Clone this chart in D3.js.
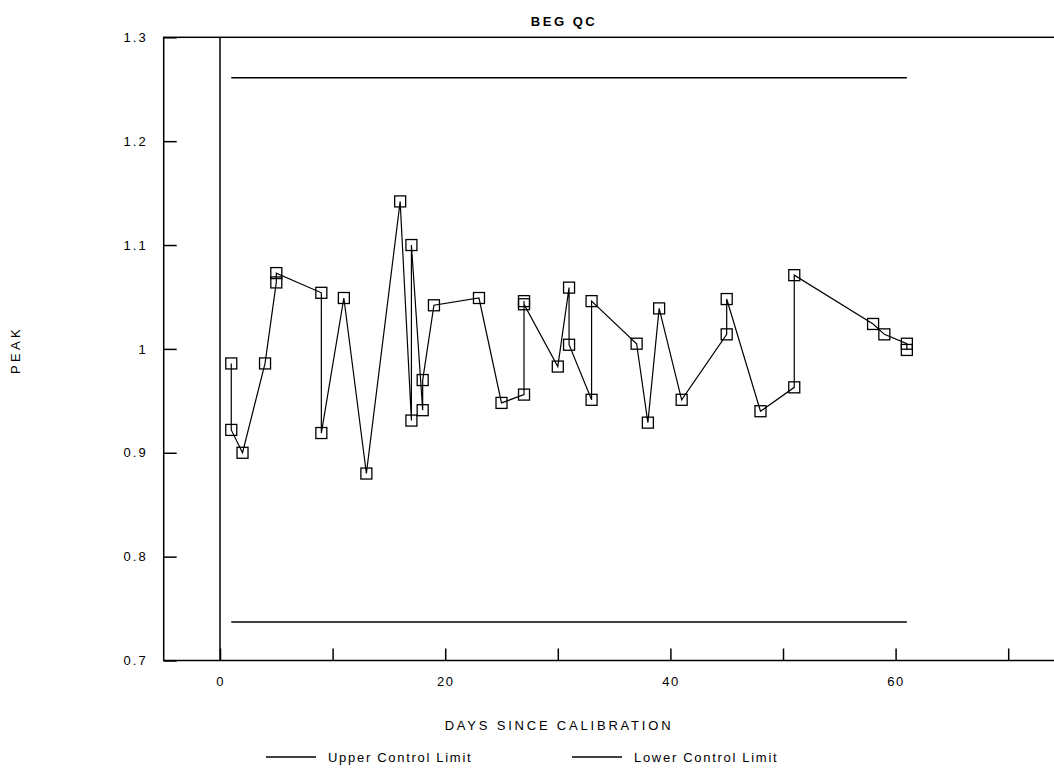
<!DOCTYPE html>
<html>
<head>
<meta charset="utf-8">
<script src="https://cdn.jsdelivr.net/npm/d3@7"></script>
<style>
  html, body { margin: 0; padding: 0; background: #fff; }
  svg { display: block; }
  text { font-family: "Liberation Sans", Arial, sans-serif; fill: #000; }
</style>
</head>
<body>
<svg id="chart" width="1054" height="768"></svg>
<script>
// ---- data ----
const days = [1,1,2,4,5,5,9,9,11,13,16,17,17,18,18,19,23,25,27,27,27,30,31,31,33,33,37,38,39,41,45,45,48,51,51,58,59,61,61];
const peak = [0.986,0.922,0.900,0.986,1.064,1.073,1.054,0.919,1.049,0.880,1.142,0.931,1.100,0.941,0.970,1.042,1.049,0.948,0.956,1.046,1.043,0.983,1.059,1.004,0.951,1.046,1.005,0.929,1.039,0.951,1.014,1.048,0.940,0.963,1.071,1.024,1.014,1.005,0.999];
const limitDays = [1, 61];
const upperLimit = [1.261, 1.261];
const lowerLimit = [0.737, 0.737];
const xTicks = [0,10,20,30,40,50,60,70];
const xTickLabels = ["0","","20","","40","","60",""];
const yTicks = [0.7,0.8,0.9,1.0,1.1,1.2,1.3];
const yTickLabels = ["0.7","0.8","0.9","1","1.1","1.2","1.3"];
const title = "BEG QC";
const xTitle = "DAYS SINCE CALIBRATION";
const yTitle = "PEAK";
const legendLabels = ["Upper Control Limit", "Lower Control Limit"];

const svg = d3.select("#chart");
const x = d3.scaleLinear().domain([-5, 75]).range([163.7, 1064.5]);
const y = d3.scaleLinear().domain([0.7, 1.3]).range([660.5, 37.3]);

// frame
const g = svg.append("g");
g.append("rect")
  .attr("x", x(-5)).attr("y", y(1.3))
  .attr("width", x(75) - x(-5)).attr("height", y(0.7) - y(1.3))
  .attr("fill", "none").attr("stroke", "#000").attr("stroke-width", 1.5);

// vertical line at x = 0
g.append("line")
  .attr("x1", x(0)).attr("x2", x(0))
  .attr("y1", y(1.3)).attr("y2", y(0.7))
  .attr("stroke", "#000").attr("stroke-width", 1.5);

// x axis (ticks pointing up)
const xAxis = d3.axisBottom(x).tickValues(xTicks).tickSizeInner(-12).tickSizeOuter(0)
  .tickFormat((d, i) => xTickLabels[i]).tickPadding(16);
const xg = svg.append("g").attr("transform", `translate(0,${y(0.7)})`).call(xAxis);
xg.select(".domain").remove();
xg.selectAll(".tick line").attr("stroke", "#000").attr("stroke-width", 1.5);
xg.selectAll(".tick text").attr("font-size", 13).attr("font-family", "Liberation Sans, Arial, sans-serif")
  .style("letter-spacing", "1.5px").attr("dy", "0.71em");

// y axis (ticks pointing right)
const yAxis = d3.axisLeft(y).tickValues(yTicks).tickSizeInner(-13).tickSizeOuter(0)
  .tickFormat((d, i) => yTickLabels[i]).tickPadding(16);
const yg = svg.append("g").attr("transform", `translate(${x(-5)},0)`).call(yAxis);
yg.select(".domain").remove();
yg.selectAll(".tick line").attr("stroke", "#000").attr("stroke-width", 1.5);
yg.selectAll(".tick text").attr("font-size", 13).attr("font-family", "Liberation Sans, Arial, sans-serif")
  .style("letter-spacing", "2px");

// control limits
const limLine = d3.line().x((d, i) => x(limitDays[i])).y(d => y(d));
svg.append("path").attr("d", limLine(upperLimit))
  .attr("fill", "none").attr("stroke", "#000").attr("stroke-width", 1.5);
svg.append("path").attr("d", limLine(lowerLimit))
  .attr("fill", "none").attr("stroke", "#000").attr("stroke-width", 1.5);

// data line
const dataLine = d3.line().x((d, i) => x(days[i])).y(d => y(d));
svg.append("path").attr("d", dataLine(peak))
  .attr("fill", "none").attr("stroke", "#000").attr("stroke-width", 1.2);

// square markers
const s = 11;
svg.append("g").selectAll("rect").data(peak).join("rect")
  .attr("x", (d, i) => x(days[i]) - s / 2)
  .attr("y", d => y(d) - s / 2)
  .attr("width", s).attr("height", s)
  .attr("fill", "none").attr("stroke", "#000").attr("stroke-width", 1.3);

// title
svg.append("text").attr("x", 564).attr("y", 26).attr("text-anchor", "middle")
  .attr("font-size", 13).attr("font-weight", "bold").style("letter-spacing", "2.5px").text(title);

// x title
svg.append("text").attr("x", 559).attr("y", 729.5).attr("text-anchor", "middle")
  .attr("font-size", 13).style("letter-spacing", "2.8px").text(xTitle);

// y title
svg.append("text").attr("transform", "translate(19.5,350) rotate(-90)").attr("text-anchor", "middle")
  .attr("font-size", 13).style("letter-spacing", "3.3px").text(yTitle);

// legend
const legendX = [266, 572];
const legendY = 757;
legendLabels.forEach((lab, i) => {
  svg.append("line").attr("x1", legendX[i]).attr("x2", legendX[i] + 50)
    .attr("y1", legendY).attr("y2", legendY)
    .attr("stroke", "#000").attr("stroke-width", 1.5);
  svg.append("text").attr("x", legendX[i] + 62).attr("y", legendY + 4.5)
    .attr("font-size", 13).style("letter-spacing", "1.7px").text(lab);
});
</script>
</body>
</html>
